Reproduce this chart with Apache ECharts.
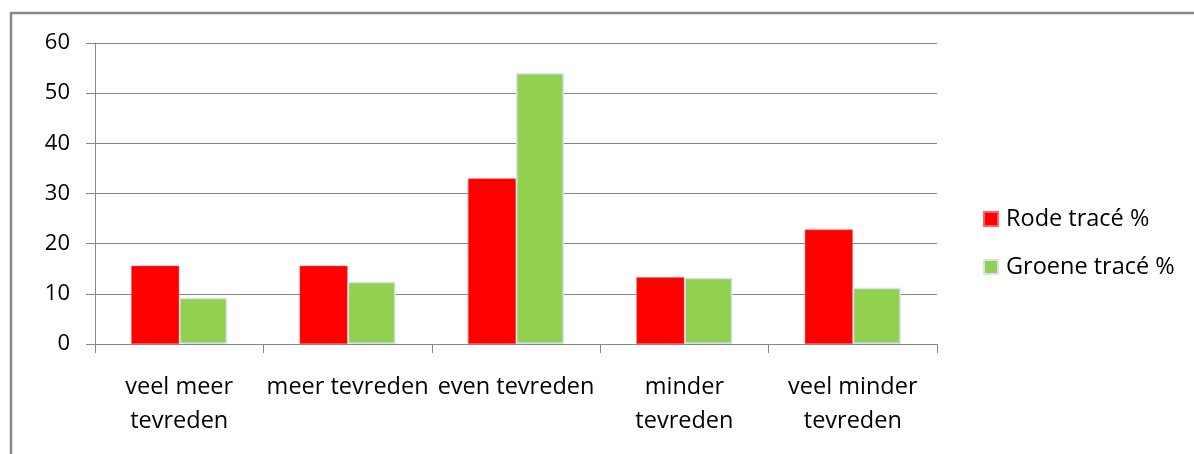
<!DOCTYPE html>
<html>
<head>
<meta charset="utf-8">
<script src="https://cdn.jsdelivr.net/npm/echarts@6/dist/echarts.min.js"></script>
<style>
  html, body { margin: 0; padding: 0; background: #fff; }
  #chart { width: 1194px; height: 454px; }
</style>
</head>
<body>
<div id="chart"></div>
<script>
  // data
  var categories = ['veel meer\ntevreden', 'meer tevreden', 'even tevreden', 'minder\ntevreden', 'veel minder\ntevreden'];
  var rodeValues = [15.6, 15.6, 33.0, 13.3, 22.8];
  var groeneValues = [9.2, 12.4, 54.0, 13.2, 11.2];
  var seriesNames = ['Rode tracé %', 'Groene tracé %'];
  var yTicks = { min: 0, max: 60, interval: 10 };

  var font = '"Open Sans", "Liberation Sans", sans-serif';
  var chart = echarts.init(document.getElementById('chart'));

  var option = {
    backgroundColor: '#fff',
    animation: false,
    textStyle: { fontFamily: font },
    graphic: [
      {
        type: 'rect',
        shape: { x: 11, y: 13, width: 1400, height: 700 },
        style: { fill: 'none', stroke: '#878787', lineWidth: 2.5 },
        silent: true
      }
    ],
    grid: { left: 95, right: 257, top: 43, bottom: 110 },
    legend: {
      orient: 'vertical',
      left: 978,
      top: 200,
      itemWidth: 14,
      itemHeight: 14,
      itemGap: 20,
      icon: 'rect',
      textStyle: { fontFamily: font, fontSize: 23.5, color: '#000', lineHeight: 28, padding: [0, 0, 0, 3] },
      data: seriesNames
    },
    xAxis: {
      type: 'category',
      data: categories,
      axisLine: { lineStyle: { color: '#868686', width: 1 } },
      axisTick: { show: true, length: 9, alignWithLabel: false, lineStyle: { color: '#868686' } },
      axisLabel: {
        interval: 0,
        margin: 26,
        color: '#000',
        fontFamily: font,
        fontSize: 23.5,
        lineHeight: 34
      }
    },
    yAxis: {
      type: 'value',
      min: yTicks.min,
      max: yTicks.max,
      interval: yTicks.interval,
      axisLine: { show: true, lineStyle: { color: '#868686', width: 1 } },
      axisTick: { show: true, length: 9, lineStyle: { color: '#868686' } },
      splitLine: { show: true, lineStyle: { color: '#868686', width: 1 } },
      axisLabel: { margin: 25, color: '#000', fontFamily: font, fontSize: 22 }
    },
    series: [
      {
        name: seriesNames[0],
        type: 'bar',
        data: rodeValues,
        barGap: '0%',
        barCategoryGap: '43%',
        itemStyle: { color: '#ff0000', borderColor: '#ff6060', borderWidth: 0.5 }
      },
      {
        name: seriesNames[1],
        type: 'bar',
        data: groeneValues,
        itemStyle: { color: '#92d050', borderColor: '#d6e2f0', borderWidth: 1.5 }
      }
    ]
  };

  chart.setOption(option);
</script>
</body>
</html>
